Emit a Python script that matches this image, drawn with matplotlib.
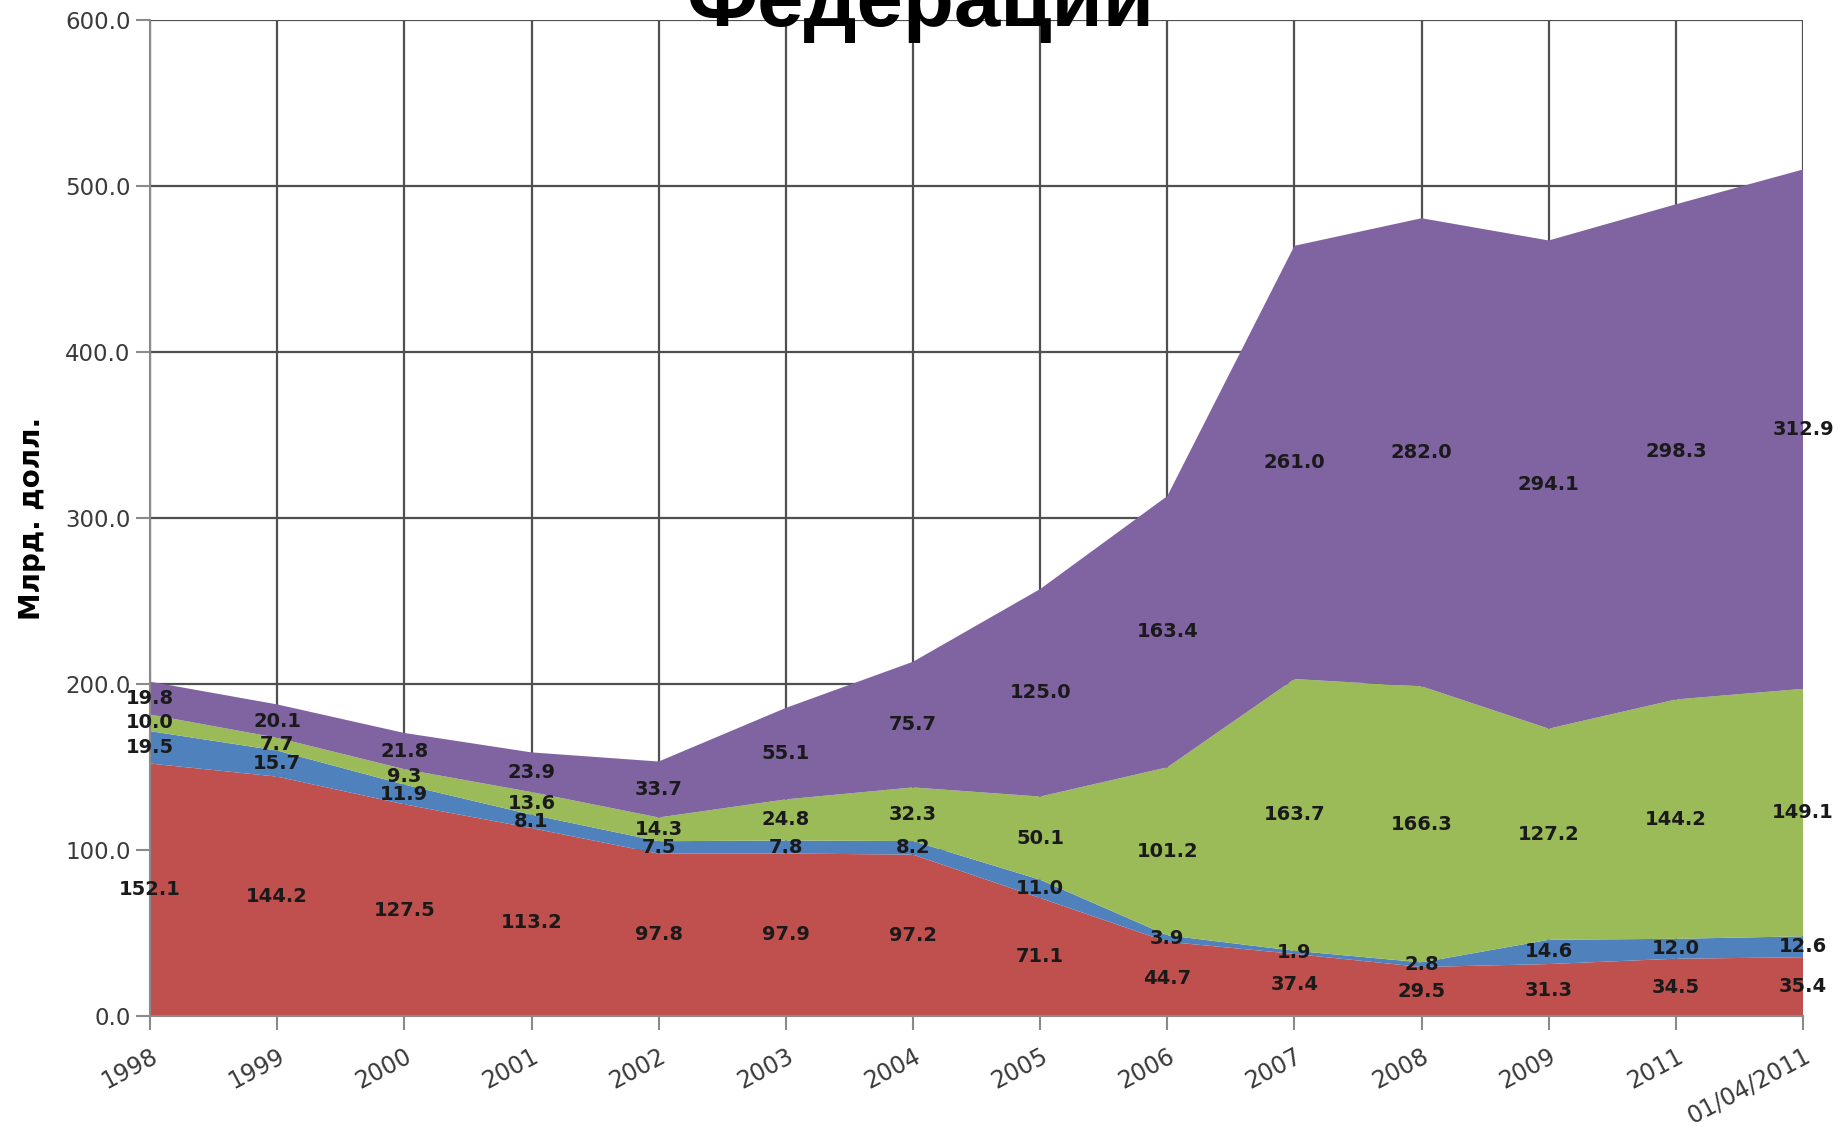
import matplotlib
matplotlib.use("Agg")
import matplotlib.pyplot as plt
import numpy as np

# data (billion USD)
periods = ["1998", "1999", "2000", "2001", "2002", "2003", "2004",
           "2005", "2006", "2007", "2008", "2009", "2011", "01/04/2011"]
red = [152.1, 144.2, 127.5, 113.2, 97.8, 97.9, 97.2, 71.1, 44.7, 37.4, 29.5, 31.3, 34.5, 35.4]
blue = [19.5, 15.7, 11.9, 8.1, 7.5, 7.8, 8.2, 11.0, 3.9, 1.9, 2.8, 14.6, 12.0, 12.6]
green = [10.0, 7.7, 9.3, 13.6, 14.3, 24.8, 32.3, 50.1, 101.2, 163.7, 166.3, 127.2, 144.2, 149.1]
purple = [19.8, 20.1, 21.8, 23.9, 33.7, 55.1, 75.7, 125.0, 163.4, 261.0, 282.0, 294.1, 298.3, 312.9]

colors = ["#C0504D", "#4F81BD", "#9BBB59", "#8064A2"]


def main():
    series = [red, blue, green, purple]
    x = np.arange(len(periods))

    fig = plt.figure(figsize=(18.41, 11.26), dpi=100)
    ax = fig.add_axes([0.0815, 0.0977, 0.8979, 0.8845])

    ax.stackplot(x, *series, colors=colors, linewidth=0, zorder=2)

    # labels in the middle of each band
    base = np.zeros(len(periods))
    for vals in series:
        vals = np.array(vals)
        for xi, b, v in zip(x, base, vals):
            ax.text(xi, b + v / 2, f"{v:.1f}", ha="center", va="center",
                    fontsize=14, fontweight="bold", color="#1a1a1a",
                    zorder=5, clip_on=False)
        base = base + vals

    ax.set_xlim(0, len(periods) - 1)
    ax.set_ylim(0, 600)
    ax.set_yticks(np.arange(0, 601, 100))
    ax.set_yticklabels([f"{v:.1f}" for v in np.arange(0, 601, 100)])
    ax.set_xticks(x)
    ax.set_xticklabels(periods, rotation=28, ha="right", va="top",
                       rotation_mode="anchor")

    ax.set_axisbelow(True)
    ax.grid(True, color="#505050", linewidth=1.6, zorder=0)
    for side in ["top", "right"]:
        ax.spines[side].set_visible(False)
    for side in ["left", "bottom"]:
        ax.spines[side].set_color("#8a8a8a")
        ax.spines[side].set_linewidth(1.5)
    ax.tick_params(axis="both", colors="#8a8a8a", labelcolor="#3a3a3a",
                   labelsize=16.5, length=10, width=1.5)
    ax.tick_params(axis="x", labelsize=17, pad=10)
    ax.tick_params(axis="y", pad=4)

    ax.set_ylabel("Млрд. долл.", fontsize=20, fontweight="bold")
    ax.yaxis.set_label_coords(-0.063, 0.5)

    fig.text(0.5, 1 - 26 / 1126, "Федерации", ha="center", va="baseline",
             fontsize=60, fontweight="bold", family="Liberation Sans",
             zorder=10)

    fig.savefig("out.png", dpi=100)


if __name__ == "__main__":
    main()
